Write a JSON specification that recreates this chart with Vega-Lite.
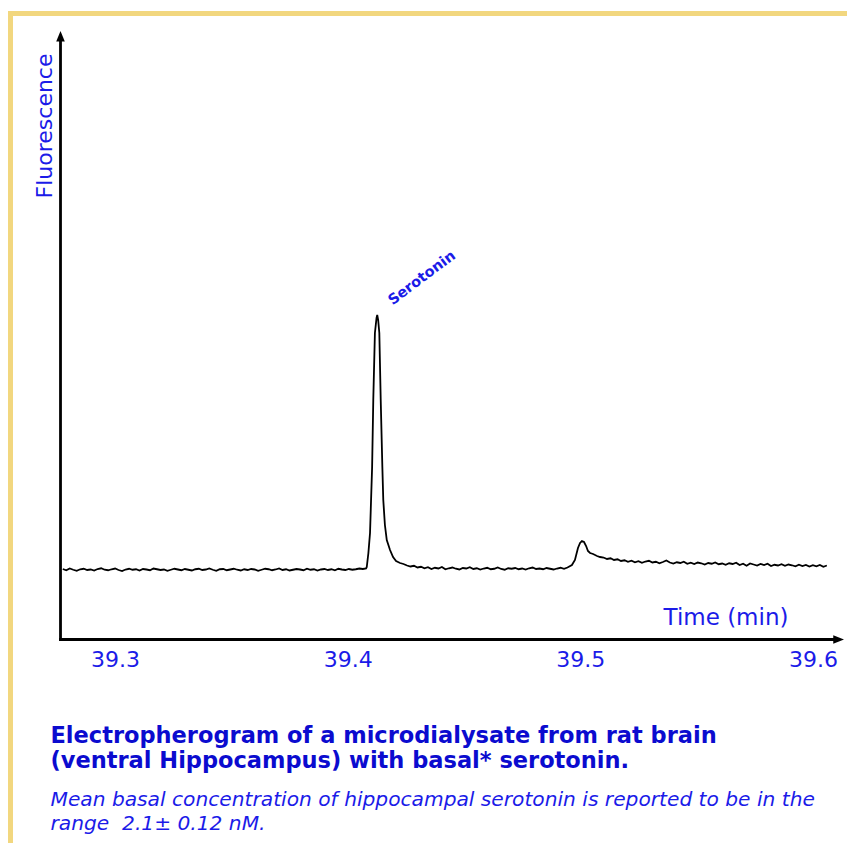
{
  "$schema": "https://vega.github.io/schema/vega-lite/v6.json",
  "width": 840,
  "height": 835,
  "autosize": {"type": "none"},
  "padding": {"left": 10.5, "top": 13.5, "right": 0, "bottom": 0},
  "background": "white",
  "view": {"stroke": "#F2D77F", "strokeWidth": 5},
  "title": {
    "text": ["Electropherogram of a microdialysate from rat brain", "(ventral Hippocampus) with basal* serotonin."],
    "subtitle": ["Mean basal concentration of hippocampal serotonin is reported to be in the", "range \u00a02.1± 0.12 nM."],
    "orient": "bottom",
    "anchor": "start",
    "frame": "group",
    "offset": -106,
    "dx": 40,
    "baseline": "alphabetic",
    "font": "DejaVu Sans",
    "fontSize": 22.5,
    "fontWeight": "bold",
    "color": "#0B0BCF",
    "lineHeight": 25,
    "subtitleFont": "DejaVu Sans",
    "subtitleFontSize": 20.2,
    "subtitleFontStyle": "italic",
    "subtitleColor": "#1B1BE8",
    "subtitleLineHeight": 24,
    "subtitlePadding": 16
  },
  "datasets": {
    "axisLines": [
      {"t": 39.27653, "f": -28.6, "t2": 39.60993, "f2": -28.6},
      {"t": 39.27653, "f": -28.6, "t2": 39.27653, "f2": 211.2}
    ],
    "arrows": [
      {"t": 39.27653, "f": 212.7, "dir": "up"},
      {"t": 39.61107, "f": -28.6, "dir": "right"}
    ],
    "label": [
      {"t": 39.4127, "f": 101.2, "label": "Serotonin"}
    ],
    "trace": [
      {"t": 39.2775, "f": -0.4}, {"t": 39.2790, "f": -0.9}, {"t": 39.2805, "f": -0.2}, {"t": 39.2820, "f": -0.7}, {"t": 39.2835, "f": -1.1},
      {"t": 39.2850, "f": -0.5}, {"t": 39.2865, "f": -0.3}, {"t": 39.2880, "f": -0.8}, {"t": 39.2895, "f": -0.6}, {"t": 39.2910, "f": -1.0},
      {"t": 39.2925, "f": -0.4}, {"t": 39.2940, "f": -0.1}, {"t": 39.2955, "f": -0.7}, {"t": 39.2970, "f": -0.9}, {"t": 39.2985, "f": -0.5},
      {"t": 39.3000, "f": -0.2}, {"t": 39.3015, "f": -0.8}, {"t": 39.3030, "f": -1.2}, {"t": 39.3045, "f": -0.6}, {"t": 39.3060, "f": -0.3},
      {"t": 39.3075, "f": -0.7}, {"t": 39.3090, "f": -0.5}, {"t": 39.3105, "f": -1.0}, {"t": 39.3120, "f": -0.4}, {"t": 39.3135, "f": -0.6},
      {"t": 39.3150, "f": -0.9}, {"t": 39.3165, "f": -0.2}, {"t": 39.3180, "f": -0.5}, {"t": 39.3195, "f": -0.8}, {"t": 39.3210, "f": -0.6},
      {"t": 39.3225, "f": -1.1}, {"t": 39.3240, "f": -0.7}, {"t": 39.3255, "f": -0.3}, {"t": 39.3270, "f": -0.6}, {"t": 39.3285, "f": -0.9},
      {"t": 39.3300, "f": -0.4}, {"t": 39.3315, "f": -0.7}, {"t": 39.3330, "f": -1.0}, {"t": 39.3345, "f": -0.5}, {"t": 39.3360, "f": -0.3},
      {"t": 39.3375, "f": -0.8}, {"t": 39.3390, "f": -0.6}, {"t": 39.3405, "f": -0.2}, {"t": 39.3420, "f": -0.7}, {"t": 39.3435, "f": -1.1},
      {"t": 39.3450, "f": -0.5}, {"t": 39.3465, "f": -0.4}, {"t": 39.3480, "f": -0.9}, {"t": 39.3495, "f": -0.6}, {"t": 39.3510, "f": -0.3},
      {"t": 39.3525, "f": -0.7}, {"t": 39.3540, "f": -1.0}, {"t": 39.3555, "f": -0.5}, {"t": 39.3570, "f": -0.8}, {"t": 39.3585, "f": -0.4},
      {"t": 39.3600, "f": -0.6}, {"t": 39.3615, "f": -1.1}, {"t": 39.3630, "f": -0.7}, {"t": 39.3645, "f": -0.3}, {"t": 39.3660, "f": -0.5},
      {"t": 39.3675, "f": -0.9}, {"t": 39.3690, "f": -0.6}, {"t": 39.3705, "f": -0.2}, {"t": 39.3720, "f": -0.8}, {"t": 39.3735, "f": -0.5},
      {"t": 39.3750, "f": -1.0}, {"t": 39.3765, "f": -0.7}, {"t": 39.3780, "f": -0.4}, {"t": 39.3795, "f": -0.6}, {"t": 39.3810, "f": -0.9},
      {"t": 39.3825, "f": -0.3}, {"t": 39.3840, "f": -0.7}, {"t": 39.3855, "f": -0.5}, {"t": 39.3870, "f": -1.0}, {"t": 39.3885, "f": -0.6},
      {"t": 39.3900, "f": -0.4}, {"t": 39.3915, "f": -0.8}, {"t": 39.3930, "f": -0.5}, {"t": 39.3945, "f": -0.9}, {"t": 39.3960, "f": -0.3},
      {"t": 39.3975, "f": -0.6}, {"t": 39.3990, "f": -0.8}, {"t": 39.4005, "f": -0.4}, {"t": 39.4020, "f": -0.7}, {"t": 39.4035, "f": -0.5},
      {"t": 39.4050, "f": -0.2}, {"t": 39.4065, "f": -0.4},
      {"t": 39.4079, "f": -0.2}, {"t": 39.4082, "f": 0.4}, {"t": 39.4089, "f": 6.0}, {"t": 39.4096, "f": 14.0}, {"t": 39.4105, "f": 40.4},
      {"t": 39.4110, "f": 67.2}, {"t": 39.4117, "f": 94.0}, {"t": 39.4124, "f": 100.0}, {"t": 39.4127, "f": 101.2}, {"t": 39.4131, "f": 99.2},
      {"t": 39.4136, "f": 94.0}, {"t": 39.4142, "f": 67.2}, {"t": 39.4149, "f": 40.4}, {"t": 39.4153, "f": 27.2}, {"t": 39.4160, "f": 17.2},
      {"t": 39.4168, "f": 11.2}, {"t": 39.4182, "f": 7.2}, {"t": 39.4195, "f": 4.4}, {"t": 39.4208, "f": 2.8}, {"t": 39.4225, "f": 2.0},
      {"t": 39.4240, "f": 1.6}, {"t": 39.4255, "f": 1.0}, {"t": 39.4270, "f": 0.6}, {"t": 39.4285, "f": 0.9}, {"t": 39.4300, "f": 0.2},
      {"t": 39.4315, "f": 0.5}, {"t": 39.4330, "f": -0.1}, {"t": 39.4345, "f": 0.3}, {"t": 39.4360, "f": -0.4}, {"t": 39.4375, "f": 0.1},
      {"t": 39.4390, "f": -0.2}, {"t": 39.4405, "f": 0.4}, {"t": 39.4420, "f": -0.5}, {"t": 39.4435, "f": -0.1}, {"t": 39.4450, "f": 0.2},
      {"t": 39.4465, "f": -0.3}, {"t": 39.4480, "f": -0.6}, {"t": 39.4495, "f": 0.0}, {"t": 39.4510, "f": -0.2}, {"t": 39.4525, "f": 0.3},
      {"t": 39.4540, "f": -0.4}, {"t": 39.4555, "f": -0.1}, {"t": 39.4570, "f": -0.6}, {"t": 39.4585, "f": -0.2}, {"t": 39.4600, "f": 0.1},
      {"t": 39.4615, "f": -0.5}, {"t": 39.4630, "f": -0.3}, {"t": 39.4645, "f": 0.2}, {"t": 39.4660, "f": -0.4}, {"t": 39.4675, "f": -0.7},
      {"t": 39.4690, "f": -0.1}, {"t": 39.4705, "f": -0.3}, {"t": 39.4720, "f": 0.0}, {"t": 39.4735, "f": -0.5}, {"t": 39.4750, "f": -0.2},
      {"t": 39.4765, "f": -0.6}, {"t": 39.4780, "f": -0.1}, {"t": 39.4795, "f": 0.2}, {"t": 39.4810, "f": -0.4}, {"t": 39.4825, "f": -0.2},
      {"t": 39.4840, "f": -0.5}, {"t": 39.4855, "f": 0.0}, {"t": 39.4870, "f": -0.3}, {"t": 39.4885, "f": -0.6}, {"t": 39.4900, "f": -0.2},
      {"t": 39.4915, "f": 0.1}, {"t": 39.4930, "f": -0.3}, {"t": 39.4945, "f": 0.2},
      {"t": 39.4964, "f": 1.2}, {"t": 39.4977, "f": 3.2}, {"t": 39.4990, "f": 8.0}, {"t": 39.4999, "f": 10.0}, {"t": 39.5007, "f": 10.8},
      {"t": 39.5016, "f": 10.4}, {"t": 39.5025, "f": 8.8}, {"t": 39.5033, "f": 6.8}, {"t": 39.5042, "f": 6.0}, {"t": 39.5055, "f": 5.6},
      {"t": 39.5072, "f": 4.8}, {"t": 39.5085, "f": 4.4},
      {"t": 39.5100, "f": 4.2}, {"t": 39.5115, "f": 3.6}, {"t": 39.5130, "f": 3.9}, {"t": 39.5145, "f": 3.2}, {"t": 39.5160, "f": 3.5},
      {"t": 39.5175, "f": 2.8}, {"t": 39.5190, "f": 3.1}, {"t": 39.5205, "f": 2.5}, {"t": 39.5220, "f": 2.9}, {"t": 39.5235, "f": 2.3},
      {"t": 39.5250, "f": 2.7}, {"t": 39.5265, "f": 2.1}, {"t": 39.5280, "f": 2.6}, {"t": 39.5295, "f": 2.9}, {"t": 39.5310, "f": 2.2},
      {"t": 39.5325, "f": 2.5}, {"t": 39.5340, "f": 1.9}, {"t": 39.5355, "f": 2.4}, {"t": 39.5370, "f": 3.0}, {"t": 39.5385, "f": 2.2},
      {"t": 39.5400, "f": 1.8}, {"t": 39.5415, "f": 2.3}, {"t": 39.5430, "f": 2.0}, {"t": 39.5445, "f": 2.5}, {"t": 39.5460, "f": 1.7},
      {"t": 39.5475, "f": 2.1}, {"t": 39.5490, "f": 1.6}, {"t": 39.5505, "f": 2.2}, {"t": 39.5520, "f": 1.9}, {"t": 39.5535, "f": 1.4},
      {"t": 39.5550, "f": 2.0}, {"t": 39.5565, "f": 1.7}, {"t": 39.5580, "f": 2.2}, {"t": 39.5595, "f": 1.5}, {"t": 39.5610, "f": 1.8},
      {"t": 39.5625, "f": 1.3}, {"t": 39.5640, "f": 1.9}, {"t": 39.5655, "f": 1.6}, {"t": 39.5670, "f": 2.1}, {"t": 39.5685, "f": 1.2},
      {"t": 39.5700, "f": 1.7}, {"t": 39.5715, "f": 0.9}, {"t": 39.5730, "f": 1.8}, {"t": 39.5745, "f": 1.4}, {"t": 39.5760, "f": 1.0},
      {"t": 39.5775, "f": 1.6}, {"t": 39.5790, "f": 1.2}, {"t": 39.5805, "f": 1.7}, {"t": 39.5820, "f": 0.8}, {"t": 39.5835, "f": 1.3},
      {"t": 39.5850, "f": 1.0}, {"t": 39.5865, "f": 1.5}, {"t": 39.5880, "f": 0.9}, {"t": 39.5895, "f": 1.4}, {"t": 39.5910, "f": 1.1},
      {"t": 39.5925, "f": 0.7}, {"t": 39.5940, "f": 1.3}, {"t": 39.5955, "f": 0.8}, {"t": 39.5970, "f": 1.2}, {"t": 39.5985, "f": 0.6},
      {"t": 39.6000, "f": 1.1}, {"t": 39.6015, "f": 0.7}, {"t": 39.6030, "f": 1.2}, {"t": 39.6045, "f": 0.5}, {"t": 39.6060, "f": 1.0}
    ]
  },
  "encoding": {
    "x": {
      "field": "t",
      "type": "quantitative",
      "scale": {"domain": [39.25503, 39.61617], "nice": false, "zero": false},
      "axis": {
        "orient": "bottom",
        "offset": -209,
        "values": [39.3, 39.4, 39.5, 39.6],
        "format": ".1f",
        "domain": false,
        "ticks": false,
        "tickSize": 0,
        "grid": false,
        "labelFont": "DejaVu Sans",
        "labelFontSize": 22,
        "labelColor": "#1B1BE8",
        "labelPadding": 10,
        "labelFlush": false,
        "labelOverlap": false,
        "title": "Time (min)",
        "titleFont": "DejaVu Sans",
        "titleFontSize": 23,
        "titleFontWeight": "normal",
        "titleColor": "#1B1BE8",
        "titleX": 715,
        "titleY": -15.5,
        "titleAlign": "center",
        "titleBaseline": "alphabetic"
      }
    },
    "y": {
      "field": "f",
      "type": "quantitative",
      "scale": {"domain": [-112.2, 221.8], "nice": false, "zero": false},
      "axis": {
        "orient": "left",
        "offset": -50,
        "domain": false,
        "ticks": false,
        "labels": false,
        "grid": false,
        "title": "Fluorescence",
        "titleFont": "DejaVu Sans",
        "titleFontSize": 22,
        "titleFontWeight": "normal",
        "titleColor": "#1B1BE8",
        "titleX": -9,
        "titleY": 39.5,
        "titleAlign": "right",
        "titleBaseline": "alphabetic",
        "titleAngle": 270
      }
    }
  },
  "layer": [
    {
      "data": {"name": "axisLines"},
      "mark": {"type": "rule", "color": "black", "strokeWidth": 2.8, "strokeCap": "square"},
      "encoding": {"x2": {"field": "t2"}, "y2": {"field": "f2"}}
    },
    {
      "data": {"name": "arrows"},
      "mark": {"type": "point", "filled": true, "color": "black", "opacity": 1, "strokeWidth": 0},
      "encoding": {
        "shape": {"field": "dir", "type": "nominal", "scale": {"domain": ["up", "right"], "range": ["M0,-1L-0.8,1L0.8,1Z", "M1,0L-1,-0.8L-1,0.8Z"]}, "legend": null},
        "size": {"value": 115}
      }
    },
    {
      "data": {"name": "trace"},
      "mark": {"type": "line", "color": "black", "strokeWidth": 1.8},
      "encoding": {}
    },
    {
      "data": {"name": "label"},
      "mark": {"type": "text", "align": "left", "baseline": "alphabetic", "angle": 323, "dx": 18, "dy": 1.7, "font": "DejaVu Sans", "fontSize": 14.5, "fontWeight": "bold", "color": "#1B1BE8"},
      "encoding": {"text": {"field": "label"}}
    }
  ]
}
